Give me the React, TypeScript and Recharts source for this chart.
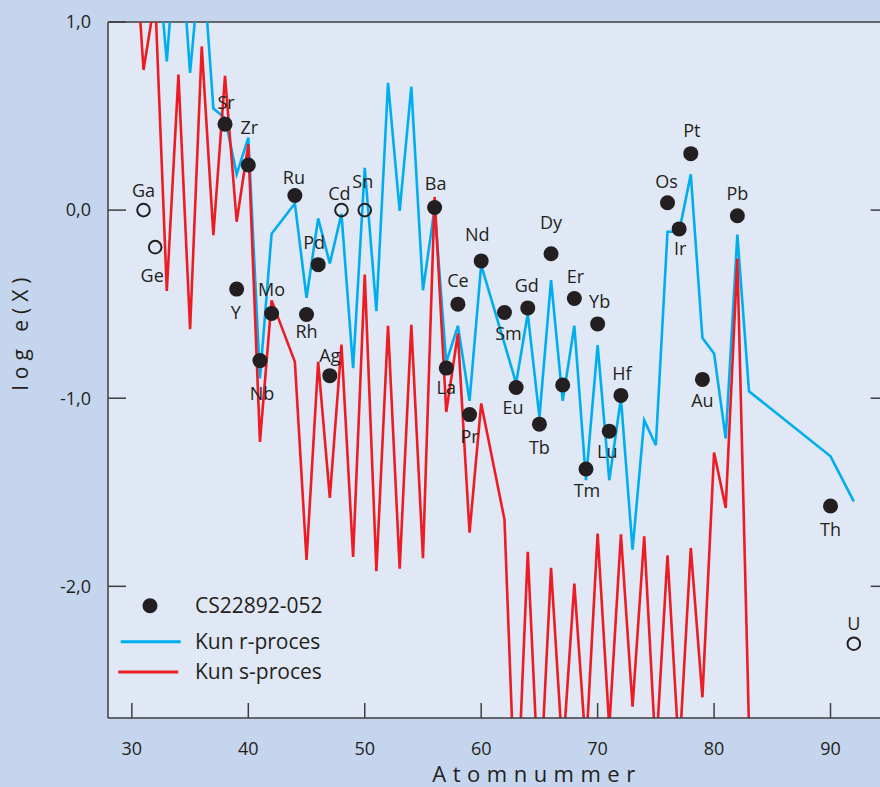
import { ComposedChart, Line, Scatter, XAxis, YAxis, ReferenceLine, Legend, CartesianGrid } from 'recharts';

const INK = '#231f20';
const BLUE = '#00aeef';
const RED = '#ed1c24';
const AXIS = '#3e3e40';
const FONT = '"Open Sans", "Noto Sans", sans-serif';

const X_MIN = 27.95;
const X_MAX = 94.25;

// Kun r-proces (scaled solar r-process)
const rZ = [32, 33, 34, 35, 36, 37, 38, 39, 40, 41, 42, 44, 45, 46, 47, 48, 49, 50, 51, 52, 53, 54, 55, 56, 57, 58, 59, 60, 62, 63, 64, 65, 66, 67, 68, 69, 70, 71, 72, 73, 74, 75, 76, 77, 78, 79, 80, 81, 82, 83, 90, 92];
const rLog = [1.5, 0.79, 1.6, 0.73, 1.41, 0.54, 0.49, 0.19, 0.385, -0.895, -0.125, 0.035, -0.466, -0.044, -0.284, -0.02, -0.84, 0.225, -0.537, 0.677, -0.004, 0.656, -0.426, 0.01, -0.81, -0.615, -1.014, -0.293, -0.71, -0.92, -0.55, -1.1, -0.372, -1.014, -0.615, -1.435, -0.718, -1.436, -1.0, -1.805, -1.117, -1.25, -0.115, -0.115, 0.19, -0.68, -0.762, -1.214, -0.13, -0.963, -1.309, -1.548];

// Kun s-proces (scaled solar s-process)
const sZ = [30, 31, 32, 33, 34, 35, 36, 37, 38, 39, 40, 41, 42, 44, 45, 46, 47, 48, 49, 50, 51, 52, 53, 54, 55, 56, 57, 58, 59, 60, 62, 63, 64, 65, 66, 67, 68, 69, 70, 71, 72, 73, 74, 75, 76, 77, 78, 79, 80, 81, 82, 83];
const sLog = [1.7, 0.745, 1.13, -0.43, 0.72, -0.633, 0.87, -0.133, 0.714, -0.062, 0.35, -1.232, -0.48, -0.807, -1.86, -0.807, -1.53, -0.715, -1.844, -0.342, -1.92, -0.615, -1.906, -0.61, -1.85, 0.07, -1.073, -0.656, -1.715, -1.028, -1.645, -3.3, -1.817, -3.15, -1.902, -2.9, -1.986, -2.87, -1.72, -2.75, -1.723, -2.64, -1.734, -2.9, -1.835, -2.9, -1.796, -2.59, -1.289, -1.583, -0.257, -2.75];

// CS22892-052 measured abundances
const starEl = ['Sr', 'Y', 'Zr', 'Nb', 'Mo', 'Ru', 'Rh', 'Pd', 'Ag', 'Ba', 'La', 'Ce', 'Pr', 'Nd', 'Sm', 'Eu', 'Gd', 'Tb', 'Dy', 'Ho', 'Er', 'Tm', 'Yb', 'Lu', 'Hf', 'Os', 'Ir', 'Pt', 'Au', 'Pb', 'Th'];
const starZ = [38, 39, 40, 41, 42, 44, 45, 46, 47, 56, 57, 58, 59, 60, 62, 63, 64, 65, 66, 67, 68, 69, 70, 71, 72, 76, 77, 78, 79, 82, 90];
const starLog = [0.457, -0.42, 0.24, -0.8, -0.55, 0.078, -0.555, -0.29, -0.88, 0.014, -0.84, -0.5, -1.087, -0.27, -0.544, -0.943, -0.52, -1.138, -0.232, -0.93, -0.47, -1.376, -0.605, -1.175, -0.985, 0.039, -0.1, 0.3, -0.9, -0.03, -1.573];

// open circles
const limitEl = ['Ga', 'Ge', 'Cd', 'Sn', 'U'];
const limitZ = [31, 32, 48, 50, 92];
const limitLog = [0, -0.197, 0, 0, -2.305];

const xTicks = [30, 40, 50, 60, 70, 80, 90];
const yTicks = [1, 0, -1, -2];
const rightTicks = [0, -1, -2];

// where each element name sits relative to its dot (dx, dy in px)
const labelOffset: Record<string, [number, number]> = {
    Ga: [0, -20], Ge: [-3, 28], Sr: [1, -22], Y: [-1, 23], Zr: [1, -37], Nb: [2, 33],
    Mo: [0, -24], Ru: [-1, -18], Rh: [0, 17], Pd: [-4, -22], Ag: [0, -20], Cd: [-2, -17],
    Sn: [-2, -29], Ba: [1, -24], La: [0, 19], Ce: [0, -24], Pr: [0, 22], Nd: [-4, -26],
    Sm: [4, 21], Eu: [-3, 20], Gd: [-1, -22], Tb: [0, 23], Dy: [0, -31], Er: [1, -22],
    Yb: [2, -22], Tm: [1, 22], Lu: [-2, 20], Hf: [1, -22], Os: [-1, -21], Ir: [1, 20],
    Pt: [1, -23], Au: [0, 21], Pb: [0, -22], Th: [0, 23], U: [0, -20],
};

const rData = rZ.map((z, i) => ({ z, v: rLog[i] }));
const sData = sZ.map((z, i) => ({ z, v: sLog[i] }));
const starData = starZ.map((z, i) => ({ z, v: starLog[i], el: starEl[i] }));
const limitData = limitZ.map((z, i) => ({ z, v: limitLog[i], el: limitEl[i] }));

const fmt = (v: number) => v.toFixed(1).replace('.', ',');

function ElementLabel({ cx, cy, el }: { cx: number; cy: number; el: string }) {
    const off = labelOffset[el];
    if (!off) return null;
    return (
        <text x={cx + off[0]} y={cy + off[1] + 6.5} textAnchor="middle" fontSize={18} fontFamily={FONT} fill={INK}>
            {el}
        </text>
    );
}

const FilledDot = (props: any) => {
    const { cx, cy, payload } = props;
    return (
        <g>
            <circle cx={cx} cy={cy} r={7.5} fill={INK} />
            <ElementLabel cx={cx} cy={cy} el={payload.el} />
        </g>
    );
};

const OpenDot = (props: any) => {
    const { cx, cy, payload } = props;
    return (
        <g>
            <circle cx={cx} cy={cy} r={6.3} fill="none" stroke={INK} strokeWidth={2} />
            <ElementLabel cx={cx} cy={cy} el={payload.el} />
        </g>
    );
};

const renderLegend = () => (
    <svg width={300} height={110} style={{ display: 'block' }}>
        <circle cx={50} cy={25.8} r={7.5} fill={INK} />
        <text x={95} y={33.4} fontSize={21} fontFamily={FONT} fill={INK}>CS22892-052</text>
        <line x1={20.7} x2={80.7} y1={61.7} y2={61.7} stroke={BLUE} strokeWidth={3} />
        <text x={95} y={69} fontSize={21} fontFamily={FONT} fill={INK}>Kun r-proces</text>
        <line x1={18.3} x2={78.3} y1={92} y2={92} stroke={RED} strokeWidth={3} />
        <text x={95} y={98.5} fontSize={21} fontFamily={FONT} fill={INK}>Kun s-proces</text>
    </svg>
);

const renderYLabel = () => (
    <text x={28} y={331} transform="rotate(-90 28 331)" textAnchor="middle" fontSize={21} fontFamily={FONT} fill={INK} letterSpacing={6}>
        log e(X)
    </text>
);

const renderXLabel = () => (
    <text x={537} y={782} textAnchor="middle" fontSize={22} fontFamily={FONT} fill={INK} letterSpacing={6.5}>
        Atomnummer
    </text>
);

export default function App() {
    return (
        <div style={{ position: 'absolute', left: 0, top: 0, width: 880, height: 787, background: '#c6d5ee', overflow: 'hidden' }}>
            <ComposedChart width={880} height={787} margin={{ top: 22, right: 0, bottom: 0, left: 0 }}>
                <CartesianGrid fill="#e0e8f5" stroke="none" horizontal={false} vertical={false} />
                <XAxis
                    dataKey="z"
                    type="number"
                    domain={[X_MIN, X_MAX]}
                    allowDataOverflow
                    ticks={xTicks}
                    height={69}
                    tickSize={-15}
                    tickMargin={39}
                    stroke={AXIS}
                    strokeWidth={1.5}
                    tick={{ fontSize: 18, fill: INK, fontFamily: FONT }}
                    label={{ content: renderXLabel }}
                />
                <YAxis
                    type="number"
                    domain={[-2.7, 1]}
                    allowDataOverflow
                    ticks={yTicks}
                    tickFormatter={fmt}
                    width={108}
                    tickSize={-18}
                    tickMargin={35}
                    stroke={AXIS}
                    strokeWidth={1.5}
                    tick={{ fontSize: 18, fill: INK, fontFamily: FONT }}
                    label={{ content: renderYLabel }}
                />
                <ReferenceLine y={1} stroke={AXIS} strokeWidth={1.5} />
                {/* inward ticks on the right-hand frame */}
                {rightTicks.map((t) => (
                    <ReferenceLine
                        key={t}
                        segment={[{ x: X_MAX - 0.8, y: t }, { x: X_MAX, y: t }]}
                        stroke={AXIS}
                        strokeWidth={1.5}
                        ifOverflow="visible"
                    />
                ))}
                <Line data={rData} dataKey="v" type="linear" stroke={BLUE} strokeWidth={2.6} dot={false} isAnimationActive={false} />
                <Line data={sData} dataKey="v" type="linear" stroke={RED} strokeWidth={2.6} dot={false} isAnimationActive={false} />
                <Scatter data={starData} dataKey="v" shape={FilledDot} isAnimationActive={false} />
                <Scatter data={limitData} dataKey="v" shape={OpenDot} isAnimationActive={false} />
                <Legend
                    layout="vertical"
                    align="center"
                    verticalAlign="middle"
                    content={renderLegend}
                    wrapperStyle={{ left: 100, top: 580, width: 300, height: 110 }}
                />
            </ComposedChart>
        </div>
    );
}
